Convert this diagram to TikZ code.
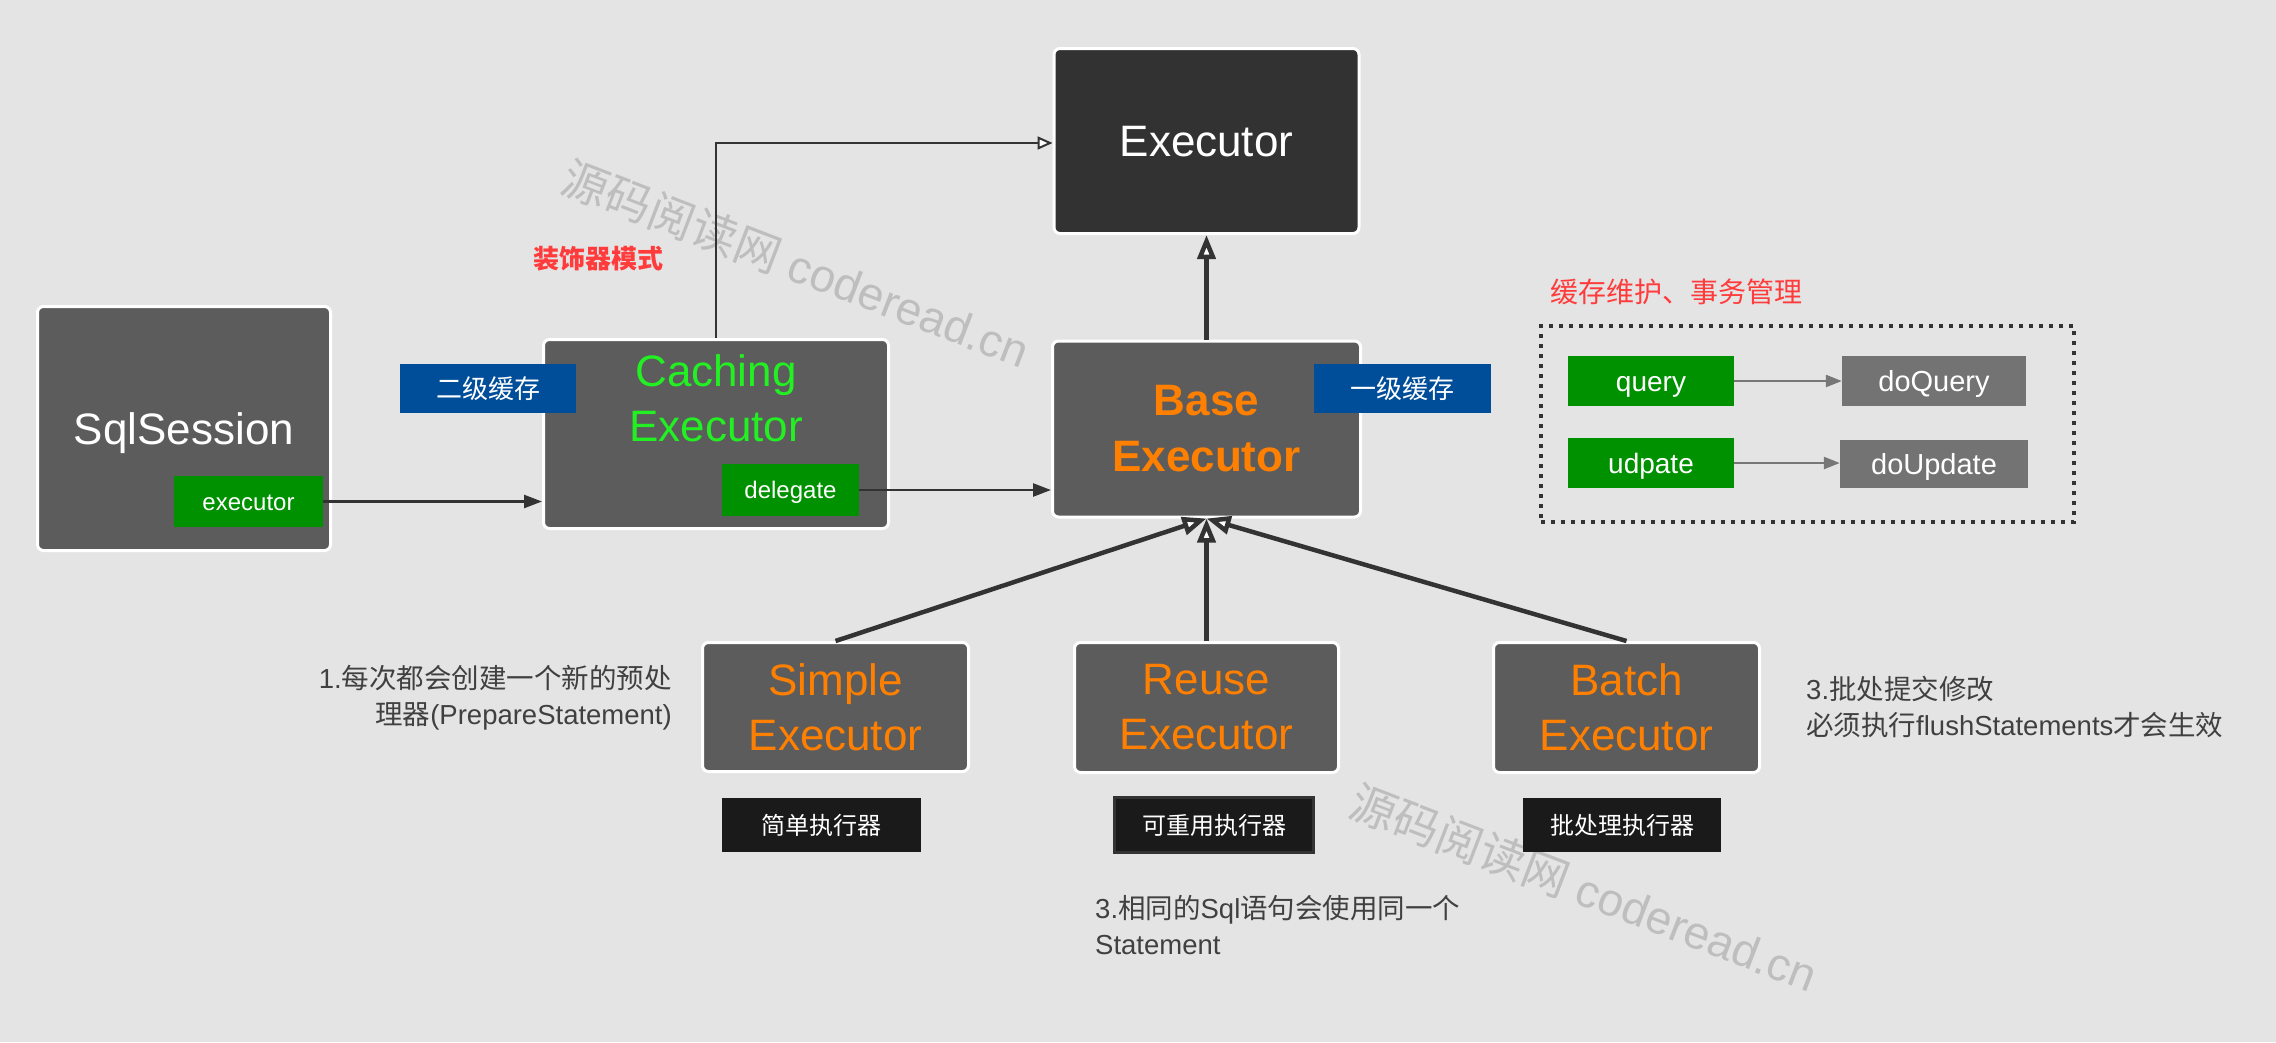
\documentclass[tikz,border=0pt]{standalone}
\usepackage{fontspec}
\setmainfont{Liberation Sans}
\newfontfamily\cjk{Noto Sans CJK SC}
\usetikzlibrary{arrows.meta}
\definecolor{bg}{HTML}{E4E4E4}
\definecolor{boxgray}{HTML}{5C5C5C}
\definecolor{darkbox}{HTML}{323232}
\definecolor{lblgreen}{HTML}{009100}
\definecolor{brightgreen}{HTML}{22F022}
\definecolor{orng}{HTML}{FF8000}
\definecolor{blu}{HTML}{004D99}
\definecolor{redt}{HTML}{FF3B3B}
\definecolor{midgray}{HTML}{737373}
\definecolor{blk}{HTML}{1A1A1A}
\definecolor{linec}{HTML}{333333}
\definecolor{arrgray}{HTML}{777777}
\definecolor{wm}{HTML}{BEBEBE}
\definecolor{anno}{HTML}{404040}
\begin{document}
\begin{tikzpicture}[x=1pt,y=-1pt,
  cls/.style={draw=white, line width=3pt, fill=boxgray, rounded corners=6pt, inner sep=0pt, align=center},
  big/.style={font=\fontsize{44}{55}\selectfont},
  oneline/.style={text height=31.5pt, text depth=0pt},
  tag/.style={inner sep=0pt, text=white, text depth=0pt},
  tagfont/.style={font=\fontsize{24}{24}\selectfont, text height=17.2pt},
  qfont/.style={font=\fontsize{28}{28}\selectfont, text height=20pt},
  dqfont/.style={font=\fontsize{29}{29}\selectfont, text height=20.8pt},
  cjkfont/.style={font=\cjk\fontsize{26}{26}\selectfont},
  cjktag/.style={inner sep=0pt, text=white},
  annot/.style={text=anno, font=\fontsize{27.5}{36}\selectfont},
  inherit/.style={draw=linec, line width=4.5pt, -{Triangle[fill=white, length=24pt, width=18pt]}},
  thinopen/.style={draw=linec, line width=2pt, -{Triangle[fill=white, length=15pt, width=13pt]}},
  solidarr/.style={draw=linec, line width=2.5pt, -{Triangle[length=18pt, width=13pt]}},
  grayarr/.style={draw=arrgray, line width=2.5pt, -{Triangle[length=16pt, width=12pt]}},
  watermark/.style={text=wm, rotate=-21, font=\fontsize{46}{46}\selectfont}
]
\useasboundingbox (0,0) rectangle (2276,1042);
\fill[bg] (0,0) rectangle (2276,1042);

% watermarks
\node[watermark] (wm1) at (796,264) {{\cjk 源码阅读网} coderead.cn};
\node[watermark] (wm2) at (1584,888) {{\cjk 源码阅读网} coderead.cn};

% main boxes
\node[cls, fill=darkbox, minimum width=305pt, minimum height=185pt, text=white, big, oneline] (exec) at (1206.5,141) {Executor};
\node[cls, minimum width=293pt, minimum height=244pt, text=white, big, oneline] (sql) at (184,428.5) {SqlSession};
\node[cls, minimum width=345pt, minimum height=189pt] (cach) at (716,434) {};
\node[text=brightgreen, big, align=center, inner sep=0pt] (cachtxt) at (716,398) {Caching\\Executor};
\node[cls, minimum width=308pt, minimum height=176pt, text=orng, big, font=\fontsize{44}{56}\selectfont\bfseries] (base) at (1206.5,429) {Base\\Executor};
\node[cls, minimum width=266pt, minimum height=129pt, text=orng, big] (simple) at (835.5,707) {Simple\\Executor};
\node[cls, minimum width=264pt, minimum height=130pt, text=orng, big] (reuse) at (1206.5,707.5) {Reuse\\Executor};
\node[cls, minimum width=266pt, minimum height=130pt, text=orng, big] (batch) at (1626.5,707.5) {Batch\\Executor};

% tags
\node[tag, fill=lblgreen, minimum width=149pt, minimum height=51pt, tagfont] (exe) at (248.5,501.5) {executor};
\node[tag, fill=lblgreen, minimum width=137pt, minimum height=52pt, tagfont] (del) at (790.5,490) {delegate};
\node[cjktag, fill=blu, minimum width=176pt, minimum height=49pt, cjkfont] (l2) at (488,388.5) {二级缓存};
\node[cjktag, fill=blu, minimum width=177pt, minimum height=49pt, cjkfont] (l1) at (1402.5,388.5) {一级缓存};
\node[cjktag, fill=blk, minimum width=199pt, minimum height=54pt, font=\cjk\fontsize{24}{24}\selectfont] (simplelbl) at (821.5,825) {简单执行器};
\node[cjktag, fill=blk, draw=linec, line width=3pt, minimum width=199pt, minimum height=55pt, font=\cjk\fontsize{24}{24}\selectfont] (reuselbl) at (1214,825) {可重用执行器};
\node[cjktag, fill=blk, minimum width=198pt, minimum height=54pt, font=\cjk\fontsize{24}{24}\selectfont] (batchlbl) at (1622,825) {批处理执行器};

% red titles
\node[text=redt, font=\cjk\fontsize{26}{26}\selectfont\bfseries, inner sep=0pt] (deco) at (598.5,259) {装饰器模式};
\node[text=redt, font=\cjk\fontsize{28}{28}\selectfont, inner sep=0pt] (cachetitle) at (1676,292) {缓存维护、事务管理};

% dotted group
\node[draw=linec, line width=4pt, dash pattern=on 4pt off 6pt, minimum width=533pt, minimum height=196pt, inner sep=0pt] (grp) at (1807.5,424) {};
\node[tag, fill=lblgreen, minimum width=166pt, minimum height=50pt, qfont] (query) at (1651,381) {query};
\node[tag, fill=midgray, minimum width=184pt, minimum height=50pt, dqfont] (doquery) at (1934,381) {doQuery};
\node[tag, fill=lblgreen, minimum width=166pt, minimum height=50pt, qfont] (update) at (1651,463) {udpate};
\node[tag, fill=midgray, minimum width=188pt, minimum height=48pt, dqfont] (doupdate) at (1934,464) {doUpdate};

% annotations
\node[annot, align=right, anchor=east, inner sep=0pt] (note1) at (672,698) {1.{\cjk 每次都会创建一个新的预处}\\{\cjk 理器}(PrepareStatement)};
\node[annot, align=left, anchor=west, inner sep=0pt] (note3) at (1806,707) {3.{\cjk 批处提交修改}\\{\cjk 必须执行}flushStatements{\cjk 才会生效}};
\node[annot, align=left, anchor=west, inner sep=0pt] (note2) at (1095,925) {3.{\cjk 相同的}Sql{\cjk 语句会使用同一个}\\Statement};

% connectors
\draw[solidarr] (exe.east) -- (exe.east -| cach.west);
\draw[solidarr] (del.east) -- (del.east -| base.west);
\draw[thinopen] (cach.north) |- ([yshift=-2pt]exec.west);
\draw[inherit] (base.north) -- (exec.south);
\draw[inherit] (simple.north) -- (base.south);
\draw[inherit] (reuse.north) -- (base.south);
\draw[inherit] (batch.north) -- (base.south);
\draw[grayarr] (query.east) -- (query.east -| doquery.west);
\draw[grayarr] (update.east) -- (update.east -| doupdate.west);
\end{tikzpicture}
\end{document}
